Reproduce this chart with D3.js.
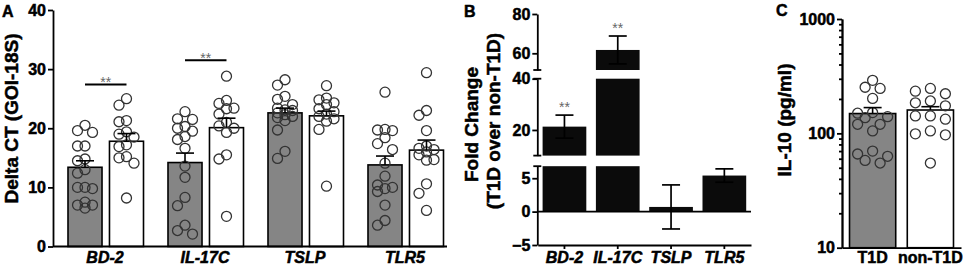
<!DOCTYPE html>
<html><head><meta charset="utf-8">
<script src="https://cdn.jsdelivr.net/npm/d3@7"></script>
<style>
body{margin:0;background:#fff}
svg text{stroke:#000;stroke-width:0.5px}
svg text.sig{stroke:none}
</style></head><body>
<svg id="chart" width="965" height="268"></svg>
<script>
// ---------------- DATA ----------------
const genes = ["BD-2","IL-17C","TSLP","TLR5"];
const groups = ["T1D","non-T1D"];

// Panel A: Delta CT (GOI-18S)
const aTicks = [0,10,20,30,40];
const aMeanT1D = [13.4,14.2,22.6,13.8];
const aMeanNon = [17.8,20.1,22.1,16.3];
const aSemT1D = [1.1,1.6,0.8,1.5];
const aSemNon = [1.3,1.6,0.8,1.7];
const aPtsT1D = [
  [20.5,19.6,19.3,17.0,17.0,14.5,14.8,13.0,12.4,10.0,10.0,9.8,7.5,7.0,6.5,7.0],
  [22.8,21.6,21.5,20.3,20.0,18.6,19.5,18.1,16.6,13.6,11.7,8.3,6.9,3.6,2.7,2.1],
  [28.2,27.3,25.4,24.9,24.0,23.4,23.1,23.0,22.6,22.3,22.0,21.8,21.3,19.7,16.1,14.9],
  [26.1,19.8,19.7,19.6,18.4,17.4,16.4,14.1,11.9,10.4,10.0,9.8,9.3,7.0,4.4,3.6]
];
const aPtsNon = [
  [25.0,23.9,21.3,21.1,19.4,19.0,18.5,17.2,16.9,15.2,15.0,14.1,8.2],
  [28.8,24.7,24.2,23.4,23.3,22.4,21.0,20.4,20.0,19.3,15.5,14.8,5.1],
  [27.2,25.1,24.8,24.3,24.0,23.3,22.8,22.4,22.0,21.6,21.2,19.8,10.2],
  [29.4,23.0,22.2,19.6,17.0,16.6,16.4,16.0,15.5,14.7,14.6,10.6,9.0,6.1]
];
const aSigLevel = [27.4,31.5,null,null];
const aSigText = ["**","**","",""];

// Panel B: Fold change (T1D over non-T1D), broken axis
const bFold = [21.3,61.7,0.7,5.4];
const bSem = [4.5,7.1,3.3,1.0];
const bSig = ["**","**","",""];
const bSegDomains = [[51.5,80],[10,40],[-5,6.8]];
const bSegTicks = [[60,80],[20,40],[-5,0,5]];

// Panel C: IL-10 (pg/ml)
const cMean = [149,160];
const cSem = [19,11];
const cPtsT1D = [291,253,247,202,152,150,140,137,120,120,105,70,66,63,58,55];
const cPtsNon = [247,234,222,192,185,174,142,142,133,105,99,97,55];
const cMajorTicks = [10,100,1000];
const cMinorTicks = [20,30,40,50,60,70,80,90,200,300,400,500,600,700,800,900];

// ---------------- DRAW ----------------
const FONT = '"Liberation Sans", Arial, Helvetica, sans-serif';
const svg = d3.select("#chart");
const GRAY = "#858585";
const LW = 1.8;

function styleAxis(g, fs, italic){
  g.attr("font-family", FONT).attr("font-size", fs).attr("font-weight","bold");
  g.selectAll("path.domain").attr("stroke","#000").attr("stroke-width",LW);
  g.selectAll(".tick line").attr("stroke","#000").attr("stroke-width",LW);
  g.selectAll(".tick text").attr("fill","#000").style("font-style", italic ? "italic" : "normal");
}
function swarm(vals, yScale, step, maxCol){
  const placed = [];
  const order = vals.map(v => ({v, y: yScale(v)})).sort((a,b) => a.y - b.y);
  const cands = [0];
  for (let k=1;k<=maxCol;k++){ cands.push(-k, k); }
  order.forEach(p => {
    let best = null, bestD = -1;
    for (const c of cands){
      const x = c*step;
      const d = placed.length ? d3.min(placed, q => Math.hypot(q.x-x, q.y-p.y)) : 1e9;
      if (d >= 10){ best = x; bestD = d; break; }
      if (d > bestD){ bestD = d; best = x; }
    }
    p.x = best; placed.push(p);
  });
  return placed;
}
function rotLabel(x, y, text){
  svg.append("text").attr("transform",`translate(${x},${y}) rotate(-90)`)
    .attr("text-anchor","middle").attr("font-family",FONT).attr("font-size",19)
    .attr("font-weight","bold").attr("fill","#000").text(text);
}
function panelLetter(x, y, t){
  svg.append("text").attr("x",x).attr("y",y).attr("font-family",FONT).attr("font-size",16)
    .attr("font-weight","bold").attr("fill","#000").text(t);
}

// ===== Panel A =====
{
  const axX = 53;
  const yA = d3.scaleLinear().domain([0,40]).range([246.5,10]);
  const xA = d3.scaleBand().domain(genes).range([55,455]).padding(0);
  const xIn = d3.scaleBand().domain(groups).range([13,88.5]).paddingInner(0.18);
  const g = svg.append("g");
  const series = [
    {grp:"T1D", mean:aMeanT1D, sem:aSemT1D, pts:aPtsT1D, fill:GRAY},
    {grp:"non-T1D", mean:aMeanNon, sem:aSemNon, pts:aPtsNon, fill:"#fff"}
  ];
  series.forEach(s => {
    genes.forEach((gname,i) => {
      const x0 = xA(gname) + xIn(s.grp), w = xIn.bandwidth(), cx = x0 + w/2;
      g.append("rect").attr("x",x0).attr("y",yA(s.mean[i])).attr("width",w)
        .attr("height",yA(0)-yA(s.mean[i])).attr("fill",s.fill).attr("stroke","#000").attr("stroke-width",1.6);
      swarm(s.pts[i], yA, 7.5, 1).forEach(p => {
        g.append("circle").attr("cx",cx+p.x).attr("cy",p.y).attr("r",5)
          .attr("fill","none").attr("stroke","#333").attr("stroke-width",1.3);
      });
      const yt = yA(s.mean[i]+s.sem[i]);
      g.append("line").attr("x1",cx).attr("x2",cx).attr("y1",yA(s.mean[i])).attr("y2",yt).attr("stroke","#000").attr("stroke-width",1.6);
      g.append("line").attr("x1",cx-9).attr("x2",cx+9).attr("y1",yt).attr("y2",yt).attr("stroke","#000").attr("stroke-width",1.6);
    });
  });
  genes.forEach((gname,i) => {
    if (aSigLevel[i] == null) return;
    const xa = xA(gname) + xIn("T1D") + xIn.bandwidth()/2;
    const xb = xA(gname) + xIn("non-T1D") + xIn.bandwidth()/2;
    const y = yA(aSigLevel[i]);
    g.append("line").attr("x1",xa).attr("x2",xb).attr("y1",y).attr("y2",y).attr("stroke","#000").attr("stroke-width",1.8);
    g.append("text").attr("class","sig").attr("x",(xa+xb)/2).attr("y",y+3).attr("text-anchor","middle")
      .attr("font-family",FONT).attr("font-size",14).attr("fill","#666").text(aSigText[i]);
  });
  const ya = svg.append("g").attr("transform",`translate(${axX},0)`)
    .call(d3.axisLeft(yA).tickValues(aTicks).tickSize(5).tickPadding(2).tickSizeOuter(0));
  styleAxis(ya, 16, false);
  svg.append("line").attr("x1",axX).attr("x2",447).attr("y1",yA(0)).attr("y2",yA(0)).attr("stroke","#000").attr("stroke-width",LW);
  const xa = svg.append("g").attr("transform",`translate(0,${yA(0)})`)
    .call(d3.axisBottom(xA).tickSize(0).tickPadding(5));
  xa.select("path.domain").remove();
  styleAxis(xa, 16, true);
  rotLabel(17.5, 118.5, "Delta CT (GOI-18S)");
  panelLetter(2, 17, "A");
}

// ===== Panel B =====
{
  const axX = 537.3;
  const ranges = [[70,14],[155.6,78.7],[245,166.2]];
  const segs = bSegDomains.map((d,i) => ({domain:d, ticks:bSegTicks[i], scale:d3.scaleLinear().domain(d).range(ranges[i])}));
  const yB = v => {
    let s = segs.find(s => v >= s.domain[0] && v <= s.domain[1]);
    if (!s) s = segs.reduce((a,b) => Math.min(Math.abs(v-a.domain[0]),Math.abs(v-a.domain[1])) < Math.min(Math.abs(v-b.domain[0]),Math.abs(v-b.domain[1])) ? a : b);
    return s.scale(v);
  };
  const xB = d3.scaleBand().domain(genes).range([537.8,751]).paddingInner(0.18).paddingOuter(0.09);
  const g = svg.append("g");
  genes.forEach((gname,i) => {
    const v = bFold[i];
    segs.forEach(s => {
      const lo = Math.max(s.domain[0],0);
      if (v <= lo) return;
      const hi = Math.min(v, s.domain[1]);
      g.append("rect").attr("x",xB(gname)).attr("width",xB.bandwidth())
        .attr("y",s.scale(hi)).attr("height",s.scale(lo)-s.scale(hi)).attr("fill","#0b0b0b");
    });
  });
  g.append("line").attr("x1",axX).attr("x2",751).attr("y1",yB(0)).attr("y2",yB(0)).attr("stroke","#000").attr("stroke-width",LW);
  genes.forEach((gname,i) => {
    const cx = xB(gname) + xB.bandwidth()/2, v = bFold[i], e = bSem[i];
    const yt = yB(v+e), yb = yB(v-e);
    g.append("line").attr("x1",cx).attr("x2",cx).attr("y1",yb).attr("y2",yt).attr("stroke","#000").attr("stroke-width",1.7);
    [yt,yb].forEach(yy => g.append("line").attr("x1",cx-9).attr("x2",cx+9).attr("y1",yy).attr("y2",yy).attr("stroke","#000").attr("stroke-width",1.7));
    if (bSig[i]) g.append("text").attr("class","sig").attr("x",cx).attr("y",yt-3).attr("text-anchor","middle")
      .attr("font-family",FONT).attr("font-size",14).attr("fill","#666").text(bSig[i]);
  });
  segs.forEach((s,i) => {
    const ax = svg.append("g").attr("transform",`translate(${axX},0)`)
      .call(d3.axisLeft(s.scale).tickValues(s.ticks).tickSize(5).tickPadding(2).tickSizeOuter(0));
    styleAxis(ax, 16, false);
    const ends = [];
    if (i > 0) ends.push(s.scale(s.domain[1]));
    if (i < segs.length-1) ends.push(s.scale(s.domain[0]));
    ends.forEach(yy => svg.append("line").attr("x1",axX-4).attr("x2",axX+4).attr("y1",yy).attr("y2",yy).attr("stroke","#000").attr("stroke-width",LW));
  });
  const xa = svg.append("g").attr("transform",`translate(0,${yB(-5)})`)
    .call(d3.axisBottom(xB).tickSize(4).tickPadding(2.6).tickSizeOuter(0));
  styleAxis(xa, 16, true);
  rotLabel(478, 124.5, "Fold Change");
  rotLabel(500, 121, "(T1D over non-T1D)");
  panelLetter(464, 17, "B");
}

// ===== Panel C =====
{
  const axX = 842;
  const yC = d3.scaleLog().domain([10,1000]).range([247.7,19]);
  const xC = d3.scaleBand().domain(groups).range([842,961]).paddingInner(0.2).paddingOuter(0.13);
  const g = svg.append("g");
  const series = [
    {grp:"T1D", pts:cPtsT1D, fill:GRAY},
    {grp:"non-T1D", pts:cPtsNon, fill:"#fff"}
  ];
  series.forEach((s,i) => {
    const x0 = xC(s.grp), w = xC.bandwidth(), cx = x0 + w/2;
    g.append("rect").attr("x",x0).attr("y",yC(cMean[i])).attr("width",w)
      .attr("height",yC(10)-yC(cMean[i])).attr("fill",s.fill).attr("stroke","#000").attr("stroke-width",1.6);
    swarm(s.pts, yC, 7.5, 2).forEach(p => {
      g.append("circle").attr("cx",cx+p.x).attr("cy",p.y).attr("r",5)
        .attr("fill","none").attr("stroke","#333").attr("stroke-width",1.3);
    });
    const yt = yC(cMean[i]+cSem[i]);
    g.append("line").attr("x1",cx).attr("x2",cx).attr("y1",yC(cMean[i])).attr("y2",yt).attr("stroke","#000").attr("stroke-width",1.6);
    g.append("line").attr("x1",cx-9).attr("x2",cx+9).attr("y1",yt).attr("y2",yt).attr("stroke","#000").attr("stroke-width",1.6);
  });
  const ymin = svg.append("g").attr("transform",`translate(${axX},0)`)
    .call(d3.axisLeft(yC).tickValues(cMinorTicks).tickSize(3).tickFormat("").tickSizeOuter(0));
  styleAxis(ymin, 16, false);
  const ymaj = svg.append("g").attr("transform",`translate(${axX},0)`)
    .call(d3.axisLeft(yC).tickValues(cMajorTicks).tickSize(5).tickPadding(2).tickFormat(d3.format("d")).tickSizeOuter(0));
  styleAxis(ymaj, 16, false);
  const xa = svg.append("g").attr("transform",`translate(0,${yC(10)})`)
    .call(d3.axisBottom(xC).tickSize(0).tickPadding(4).tickSizeOuter(0));
  styleAxis(xa, 16, false);
  rotLabel(791, 120, "IL-10 (pg/ml)");
  panelLetter(776, 16, "C");
}
</script>
</body></html>
